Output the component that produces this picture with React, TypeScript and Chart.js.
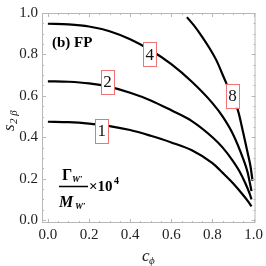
import React, { useEffect, useRef } from "react";
import { Chart, registerables } from "chart.js";

Chart.register(...registerables);

// Curve Γ/M = 1e-4
const c1X = [0, 0.1, 0.2, 0.3, 0.4, 0.5, 0.6, 0.7, 0.8, 0.85, 0.9, 0.95, 0.975, 0.99];
const c1Y = [0.475, 0.473, 0.466, 0.454, 0.435, 0.407, 0.375, 0.337, 0.275, 0.228, 0.178, 0.12, 0.088, 0.066];
// Curve Γ/M = 2e-4
const c2X = [0, 0.1, 0.2, 0.3, 0.4, 0.5, 0.6, 0.7, 0.8, 0.85, 0.9, 0.93, 0.96, 0.98, 0.99];
const c2Y = [0.67, 0.668, 0.66, 0.643, 0.615, 0.578, 0.53, 0.478, 0.4, 0.35, 0.285, 0.238, 0.178, 0.13, 0.1];
// Curve Γ/M = 4e-4
const c4X = [0, 0.1, 0.2, 0.3, 0.4, 0.5, 0.6, 0.7, 0.8, 0.85, 0.9, 0.95, 0.97, 0.99];
const c4Y = [0.948, 0.945, 0.935, 0.912, 0.873, 0.82, 0.753, 0.668, 0.565, 0.5, 0.415, 0.295, 0.235, 0.14];
// Curve Γ/M = 8e-4
const c8X = [0.676, 0.71, 0.75, 0.786, 0.82, 0.857, 0.89, 0.924, 0.95, 0.97, 0.985, 0.995];
const c8Y = [0.98, 0.94, 0.885, 0.83, 0.77, 0.685, 0.61, 0.53, 0.42, 0.33, 0.26, 0.19];

const curveLabels = ["1", "2", "4", "8"];
const labelX = [0.262, 0.29, 0.495, 0.898];
const labelY = [0.432, 0.667, 0.8, 0.6];

const xTicks = [0, 0.2, 0.4, 0.6, 0.8, 1.0];
const yTicks = [0, 0.2, 0.4, 0.6, 0.8, 1.0];

const panelTitle = "(b) FP";
const xTitleMain = "c";
const xTitleSub = "ϕ";
const yTitleMain = "s";
const yTitleSub = "2 β";

const SERIF = "'Liberation Serif', 'DejaVu Serif', serif";

const toPts = (xs: number[], ys: number[]) => xs.map((x, i) => ({ x, y: ys[i] }));

const framePlugin = {
  id: "framePlugin",
  afterDraw(chart: any) {
    const { ctx, chartArea } = chart;
    const { left, right, top, bottom } = chartArea;
    const xs = chart.scales.x;
    const ys = chart.scales.y;
    ctx.save();
    ctx.strokeStyle = "#b8b8b8";
    ctx.lineWidth = 1;
    ctx.strokeRect(left + 0.5, top + 0.5, right - left - 1, bottom - top - 1);
    ctx.beginPath();
    for (let k = 0; k <= 20; k++) {
      const v = k * 0.05;
      const major = k % 4 === 0;
      const len = major ? 4 : 2;
      const px = Math.round(xs.getPixelForValue(v)) + 0.5;
      ctx.moveTo(px, bottom);
      ctx.lineTo(px, bottom - len);
      ctx.moveTo(px, top);
      ctx.lineTo(px, top + len);
      const py = Math.round(ys.getPixelForValue(v)) + 0.5;
      ctx.moveTo(left, py);
      ctx.lineTo(left + len, py);
      ctx.moveTo(right, py);
      ctx.lineTo(right - len, py);
    }
    ctx.stroke();

    // axis titles
    ctx.fillStyle = "#222";
    ctx.textBaseline = "alphabetic";
    ctx.textAlign = "left";
    ctx.font = `italic 17px ${SERIF}`;
    ctx.fillText(xTitleMain, 142, 261);
    ctx.font = `italic 11px ${SERIF}`;
    ctx.fillText(xTitleSub, 149, 264);

    ctx.translate(14, 131);
    ctx.rotate(-Math.PI / 2);
    ctx.font = `italic 17px ${SERIF}`;
    ctx.fillText(yTitleMain, 0, 0);
    ctx.font = `italic 11px ${SERIF}`;
    ctx.fillText(yTitleSub, 7, 3);
    ctx.restore();
  },
  afterDatasetsDraw(chart: any) {
    const { ctx } = chart;
    const xs = chart.scales.x;
    const ys = chart.scales.y;
    ctx.save();
    // curve labels
    ctx.font = `17px ${SERIF}`;
    ctx.textAlign = "center";
    ctx.textBaseline = "middle";
    curveLabels.forEach((t, i) => {
      const cx = xs.getPixelForValue(labelX[i]);
      const cy = ys.getPixelForValue(labelY[i]);
      const w = 13;
      const h = 24;
      ctx.fillStyle = "#ffffff";
      ctx.fillRect(cx - w / 2, cy - h / 2, w, h);
      ctx.strokeStyle = "#f07272";
      ctx.lineWidth = 1;
      ctx.strokeRect(Math.round(cx - w / 2) + 0.5, Math.round(cy - h / 2) + 0.5, w, h);
      ctx.fillStyle = "#111";
      ctx.fillText(t, cx, cy + 1);
    });
    // panel title
    ctx.font = `bold 15px ${SERIF}`;
    ctx.textAlign = "left";
    ctx.fillStyle = "#000";
    ctx.fillText(panelTitle, 52, 43);
    // fraction
    ctx.font = `bold 16px ${SERIF}`;
    ctx.fillText("Γ", 62, 176);
    ctx.font = `italic bold 9px ${SERIF}`;
    ctx.fillText("W′", 72, 180);
    ctx.font = `italic bold 16px ${SERIF}`;
    ctx.fillText("M", 59, 203);
    ctx.font = `italic bold 9px ${SERIF}`;
    ctx.fillText("W′", 75, 207);
    ctx.lineWidth = 1.5;
    ctx.strokeStyle = "#000";
    ctx.beginPath();
    ctx.moveTo(59, 186.5);
    ctx.lineTo(88, 186.5);
    ctx.stroke();
    ctx.font = `bold 15px ${SERIF}`;
    ctx.fillText("×10", 89, 187);
    ctx.font = `bold 10px ${SERIF}`;
    ctx.fillText("4", 114, 181);
    ctx.restore();
  },
};

export default function App() {
  const ref = useRef<HTMLCanvasElement | null>(null);
  useEffect(() => {
    if (!ref.current) return;
    const ds = (xs: number[], ys: number[]) => ({
      data: toPts(xs, ys),
      showLine: true,
      borderColor: "#000",
      borderWidth: 2.2,
      pointRadius: 0,
      cubicInterpolationMode: "monotone" as const,
      fill: false,
    });
    const chart = new Chart(ref.current, {
      type: "scatter",
      data: {
        datasets: [ds(c1X, c1Y), ds(c2X, c2Y), ds(c4X, c4Y), ds(c8X, c8Y)],
      },
      options: {
        responsive: false,
        animation: false,
        layout: { padding: { left: 0, top: 7, right: 6, bottom: 0 } },
        plugins: { legend: { display: false }, tooltip: { enabled: false } },
        scales: {
          x: {
            type: "linear",
            min: -0.0286,
            max: 1.0095,
            grid: { display: false, drawTicks: false },
            border: { display: false },
            afterBuildTicks: (s: any) => {
              s.ticks = xTicks.map((v) => ({ value: v }));
            },
            afterFit: (s: any) => {
              s.height = 43;
            },
            ticks: {
              padding: 3,
              color: "#222",
              font: { family: SERIF, size: 15 },
              maxRotation: 0,
              autoSkip: false,
              callback: (v: any) => Number(v).toFixed(1),
            },
            title: { display: false },
          },
          y: {
            type: "linear",
            min: -0.014,
            max: 1.0,
            grid: { display: false, drawTicks: false },
            border: { display: false },
            afterBuildTicks: (s: any) => {
              s.ticks = yTicks.map((v) => ({ value: v }));
            },
            afterFit: (s: any) => {
              s.width = 42;
            },
            ticks: {
              padding: 4,
              color: "#222",
              font: { family: SERIF, size: 15 },
              autoSkip: false,
              callback: (v: any) => Number(v).toFixed(1),
            },
            title: { display: false },
          },
        },
      },
      plugins: [framePlugin],
    });
    return () => chart.destroy();
  }, []);
  return (
    <div style={{ position: "absolute", left: 0, top: 0, width: 266, height: 266 }}>
      <canvas ref={ref} width={266} height={266} />
    </div>
  );
}
